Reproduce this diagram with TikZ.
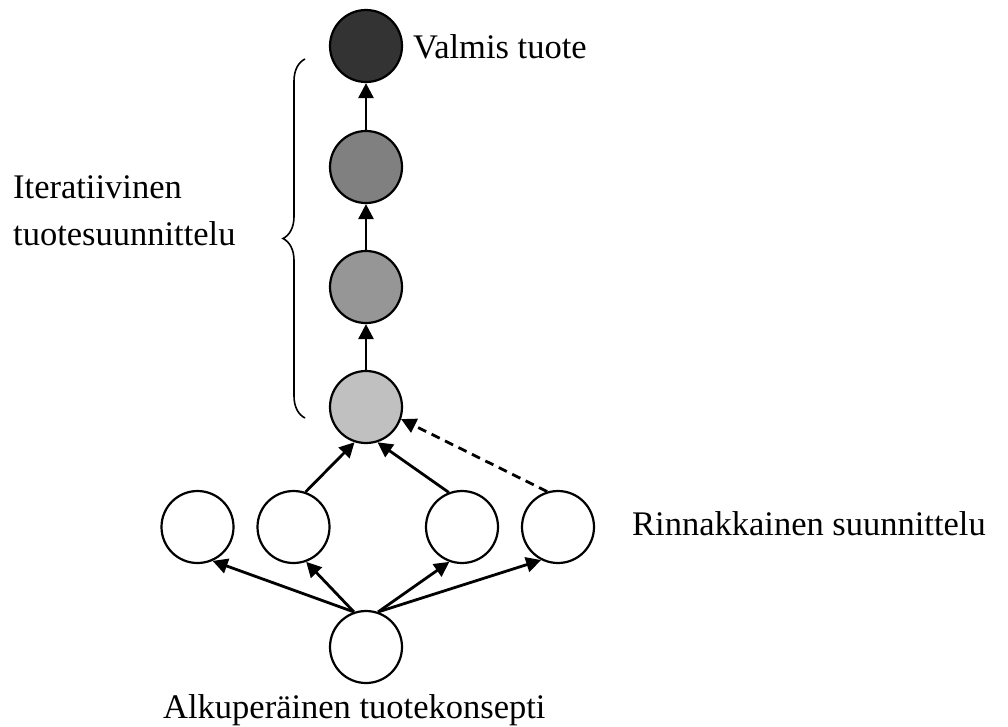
\documentclass[tikz,border=0pt]{standalone}
\usepackage{fontspec}
\setmainfont{Liberation Serif}
\usetikzlibrary{arrows.meta,decorations.pathreplacing}
\begin{document}
\begin{tikzpicture}[x=1pt,y=-1pt,
  every node/.style={font=\fontsize{34.5}{40}\selectfont},
  ball/.style={circle,draw,line width=2.2pt,minimum size=72pt,inner sep=0pt},
  arr/.style={line width=2.8pt,-{Triangle[length=15pt,width=15pt]}},
  lbl/.style={anchor=base west,inner sep=0pt}]
\useasboundingbox (0,0) rectangle (1008,726);
% iterative chain
\node[ball,fill={rgb,255:red,51;green,51;blue,51}] (c1) at (366,46) {};
\node[ball,fill={rgb,255:red,128;green,128;blue,128}] (c2) at (366,167) {};
\node[ball,fill={rgb,255:red,150;green,150;blue,150}] (c3) at (366,287) {};
\node[ball,fill={rgb,255:red,192;green,192;blue,192}] (c4) at (366,407) {};
% parallel row
\node[ball] (r1) at (197.5,527) {};
\node[ball] (r2) at (293.5,527) {};
\node[ball] (r3) at (462,527) {};
\node[ball] (r4) at (558,527) {};
% origin
\node[ball] (bot) at (366,647) {};
% labels
\node[lbl] (valmis) at (413,58) {Valmis tuote};
\node[lbl] (iter1) at (13,198) {Iteratiivinen};
\node[lbl] (iter2) at (13,245) {tuotesuunnittelu};
\node[lbl] (rinn) at (632,535) {Rinnakkainen suunnittelu};
\node[lbl] (alku) at (163,718) {Alkuperäinen tuotekonsepti};
% vertical arrows
\draw[arr] (c4) -- (c3);
\draw[arr] (c3) -- (c2);
\draw[arr] (c2) -- (c1);
% from origin to row
\draw[arr] (bot.109) -- (r1.-66);
\draw[arr] (bot.109) -- (r2.-70);
\draw[arr] (bot.71) -- (r3.-110);
\draw[arr] (bot.71) -- (r4.-117);
% from row to c4
\draw[arr] (r2.71) -- (c4.-108);
\draw[arr] (r3.111) -- (c4.-72);
\draw[arr,dash pattern=on 9pt off 6pt] (r4.107) -- (c4.-19);
% brace
\coordinate (bb) at (305,418);
\coordinate (bt) at (305,59);
\draw[line width=1.6pt,decorate,decoration={brace,amplitude=22pt}] (bb) -- (bt);
\end{tikzpicture}
\end{document}
